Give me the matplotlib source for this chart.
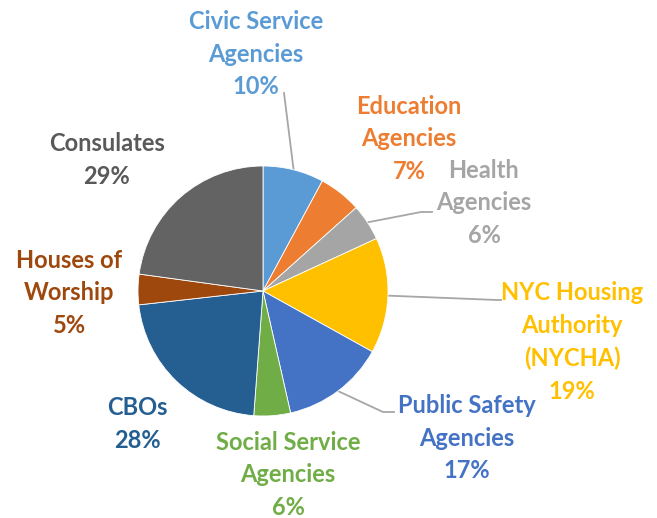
import matplotlib.pyplot as plt
import numpy as np

# data
categories = ['Civic Service\nAgencies', 'Education\nAgencies', 'Health\nAgencies',
              'NYC Housing\nAuthority\n(NYCHA)', 'Public Safety\nAgencies',
              'Social Service\nAgencies', 'CBOs', 'Houses of\nWorship', 'Consulates']
shares = [10, 7, 6, 19, 17, 6, 28, 5, 29]
colors = ['#5B9BD5', '#ED7D31', '#A5A5A5', '#FFC000', '#4472C4',
          '#70AD47', '#255E91', '#9E480E', '#636363']
text_colors = ['#5B9BD5', '#ED7D31', '#A5A5A5', '#FFC000', '#4472C4',
               '#70AD47', '#255E91', '#9E480E', '#595959']

W, H = 657, 518
# label centres in pixel coords (x, y from top)
label_pos = [(256, 54), (409, 139), (484, 203), (572, 342), (467, 438),
             (288, 475), (137, 424), (69, 293), (107, 160)]
# leader line elbows/ends (from top)
leaders = {0: [(284, 93)],
           2: [(421, 212), (432, 212)],
           3: [(497, 300), (501, 300)],
           4: [(383, 412), (394, 412)]}

cx, cy, r = 263, 291, 125

plt.rcParams['font.family'] = ['Lato', 'DejaVu Sans']

fig = plt.figure(figsize=(W / 100, H / 100), dpi=100)
ax = fig.add_axes([0, 0, 1, 1])

wedges, _ = ax.pie(shares, colors=colors, startangle=90, counterclock=False,
                   center=(cx, H - cy), radius=r,
                   wedgeprops=dict(edgecolor='white', linewidth=0.6))

# leader lines start at the middle of each wedge's arc
for i, pts in leaders.items():
    w = wedges[i]
    mid = np.deg2rad((w.theta1 + w.theta2) / 2)
    x0 = cx + r * np.cos(mid)
    y0 = (H - cy) + r * np.sin(mid)
    xs = [x0] + [p[0] for p in pts]
    ys = [y0] + [H - p[1] for p in pts]
    ax.plot(xs, ys, color='#A6A6A6', linewidth=1.3, zorder=0)

for lab, val, (x, y), c in zip(categories, shares, label_pos, text_colors):
    ax.text(x, H - y, f'{lab}\n{val}%', ha='center', va='center', color=c,
            fontsize=17, fontweight='bold', linespacing=1.5)

ax.set_xlim(0, W)
ax.set_ylim(0, H)
ax.set_aspect('equal')
ax.axis('off')

fig.savefig('out.png', dpi=100)
